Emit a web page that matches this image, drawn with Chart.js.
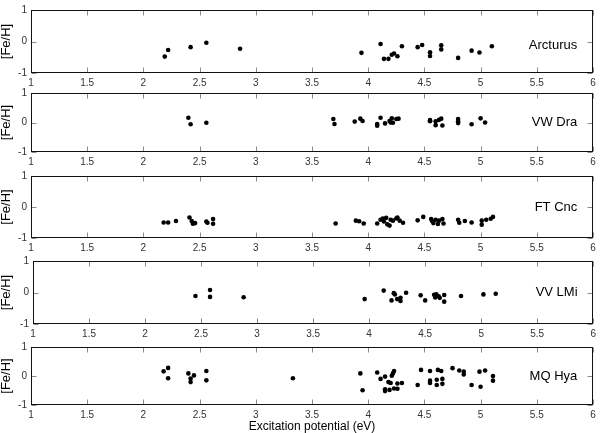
<!DOCTYPE html>
<html>
<head>
<meta charset="utf-8">
<script src="https://cdn.jsdelivr.net/npm/chart.js@4/dist/chart.umd.min.js"></script>
<style>
  body { margin: 0; background: #fff; }
  #wrap { position: relative; width: 600px; height: 433px; overflow: hidden; }
  #wrap canvas { position: absolute; left: 0; }
</style>
</head>
<body>
<div id="wrap"></div>
<script>
// star names, one per panel
var stars = ["Arcturus", "VW Dra", "FT Cnc", "VV LMi", "MQ Hya"];

// x ticks / y ticks
var epTicks = [1, 1.5, 2, 2.5, 3, 3.5, 4, 4.5, 5, 5.5, 6];
var feTicks = [-1, 0, 1];

// excitation potential (eV) and [Fe/H] per line
var arcturusEp = [2.19, 2.22, 2.42, 2.56, 2.86, 3.94, 4.11, 4.14, 4.18, 4.21, 4.23, 4.26, 4.30, 4.44, 4.48, 4.55, 4.55, 4.65, 4.65, 4.80, 4.92, 4.99, 5.10];
var arcturusFe = [-0.48, -0.27, -0.18, -0.04, -0.23, -0.36, -0.08, -0.55, -0.55, -0.42, -0.38, -0.47, -0.15, -0.18, -0.11, -0.34, -0.46, -0.12, -0.25, -0.52, -0.29, -0.35, -0.15];

var vwdraEp = [2.40, 2.42, 2.56, 3.69, 3.70, 3.88, 3.93, 3.95, 4.08, 4.08, 4.11, 4.15, 4.19, 4.20, 4.21, 4.22, 4.25, 4.27, 4.55, 4.55, 4.60, 4.60, 4.63, 4.65, 4.66, 4.80, 4.80, 4.80, 4.92, 5.00, 5.04];
var vwdraFe = [0.16, -0.06, -0.01, 0.12, -0.05, 0.03, 0.13, 0.05, -0.05, -0.11, 0.16, -0.03, 0.05, 0.00, 0.14, -0.01, 0.12, 0.13, 0.08, 0.04, 0.04, -0.09, 0.09, 0.13, -0.10, 0.12, 0.04, -0.02, -0.06, 0.14, 0.00];

var ftcncEp = [2.18, 2.22, 2.29, 2.41, 2.43, 2.44, 2.46, 2.56, 2.57, 2.62, 2.62, 3.71, 3.89, 3.92, 3.96, 4.08, 4.11, 4.13, 4.14, 4.16, 4.17, 4.19, 4.20, 4.22, 4.25, 4.26, 4.28, 4.31, 4.44, 4.49, 4.56, 4.57, 4.58, 4.60, 4.62, 4.63, 4.66, 4.67, 4.80, 4.81, 4.86, 4.92, 5.01, 5.01, 5.05, 5.09, 5.11];
var ftcncFe = [-0.50, -0.50, -0.45, -0.34, -0.45, -0.54, -0.52, -0.47, -0.51, -0.39, -0.54, -0.53, -0.44, -0.46, -0.53, -0.53, -0.41, -0.37, -0.47, -0.35, -0.56, -0.60, -0.41, -0.44, -0.37, -0.34, -0.44, -0.51, -0.43, -0.32, -0.39, -0.46, -0.52, -0.41, -0.55, -0.44, -0.39, -0.53, -0.41, -0.51, -0.45, -0.50, -0.44, -0.57, -0.41, -0.38, -0.32];

var vvlmiEp = [2.45, 2.58, 2.58, 2.88, 3.96, 4.13, 4.20, 4.22, 4.23, 4.25, 4.28, 4.28, 4.33, 4.46, 4.50, 4.58, 4.59, 4.60, 4.62, 4.63, 4.67, 4.67, 4.82, 5.02, 5.13];
var vvlmiFe = [-0.11, 0.08, -0.14, -0.15, -0.21, 0.06, -0.25, -0.02, -0.06, -0.21, -0.17, -0.27, -0.01, -0.09, -0.25, -0.07, -0.16, -0.06, -0.12, -0.17, -0.08, -0.29, -0.11, -0.06, -0.04];

var mqhyaEp = [2.18, 2.22, 2.22, 2.40, 2.42, 2.42, 2.45, 2.56, 2.56, 3.33, 3.93, 3.95, 4.08, 4.11, 4.15, 4.15, 4.15, 4.18, 4.19, 4.20, 4.21, 4.22, 4.23, 4.23, 4.26, 4.26, 4.30, 4.44, 4.47, 4.55, 4.55, 4.55, 4.61, 4.61, 4.62, 4.65, 4.66, 4.66, 4.75, 4.81, 4.85, 4.85, 4.92, 4.99, 5.00, 5.04, 5.11, 5.11];
var mqhyaFe = [0.16, 0.28, -0.08, 0.09, -0.09, -0.21, 0.02, 0.17, -0.15, -0.08, 0.09, -0.49, 0.12, -0.10, -0.02, -0.46, -0.52, -0.21, -0.48, -0.24, 0.01, 0.09, 0.17, -0.43, -0.44, -0.26, -0.24, -0.31, 0.21, 0.17, -0.16, -0.24, -0.13, -0.31, 0.21, 0.17, -0.10, -0.27, 0.27, 0.19, 0.15, 0.05, -0.31, 0.15, -0.37, 0.19, 0.00, -0.16];

var series = [
  [arcturusEp, arcturusFe],
  [vwdraEp, vwdraFe],
  [ftcncEp, ftcncFe],
  [vvlmiEp, vvlmiFe],
  [mqhyaEp, mqhyaFe]
];

// panel boxes in page pixels (top, bottom, left, right) and where the name sits
var panels = [
  { top: 6,   bottom: 73,  left: 31, right: 593, nameAt: [5.86, -0.13] },
  { top: 89,  bottom: 152, left: 31, right: 593, nameAt: [5.86, 0] },
  { top: 172, bottom: 238, left: 31, right: 593, nameAt: [5.86, 0] },
  { top: 257, bottom: 324, left: 33, right: 596, nameAt: [5.86, 0] },
  { top: 343, bottom: 405, left: 31, right: 593, nameAt: [5.86, 0] }
];

var FONT = '"Liberation Sans", Arial, Helvetica, sans-serif';

// matlab-like box with inward ticks + star name
var framePlugin = {
  id: 'frame',
  beforeDatasetsDraw: function(chart, args, opts) {
    var ctx = chart.ctx, a = chart.chartArea;
    var x = chart.scales.x, y = chart.scales.y;
    var l = Math.round(a.left) + 0.5, r = Math.round(a.right) - 0.5;
    var t = Math.round(a.top) + 0.5, b = Math.round(a.bottom) - 0.5;
    ctx.save();
    ctx.lineWidth = 1;
    ctx.strokeStyle = '#8a8a8a';
    ctx.beginPath();
    epTicks.forEach(function(v) {
      var px = Math.round(x.getPixelForValue(v)) + 0.5;
      ctx.moveTo(px, t); ctx.lineTo(px, t + 5);
      ctx.moveTo(px, b); ctx.lineTo(px, b - 5);
    });
    feTicks.forEach(function(v) {
      var py = Math.round(y.getPixelForValue(v)) + 0.5;
      ctx.moveTo(l, py); ctx.lineTo(l + 5, py);
      ctx.moveTo(r, py); ctx.lineTo(r - 5, py);
    });
    ctx.stroke();
    ctx.strokeStyle = '#111';
    ctx.strokeRect(l, t, r - l, b - t);
    ctx.fillStyle = '#000';
    ctx.font = '13px ' + FONT;
    ctx.textAlign = 'right';
    ctx.textBaseline = 'middle';
    ctx.fillText(opts.name, x.getPixelForValue(opts.nameAt[0]), y.getPixelForValue(opts.nameAt[1]));
    ctx.restore();
  }
};

var wrap = document.getElementById('wrap');

panels.forEach(function(p, i) {
  var last = i === panels.length - 1;
  var padTop = 6;
  var bottomH = last ? 433 - p.bottom : 14;
  var cv = document.createElement('canvas');
  cv.width = 600;
  cv.height = (p.bottom - p.top) + padTop + bottomH;
  cv.style.top = (p.top - padTop) + 'px';
  wrap.appendChild(cv);

  var pts = series[i][0].map(function(ep, k) { return { x: ep, y: series[i][1][k] }; });

  new Chart(cv.getContext('2d'), {
    type: 'scatter',
    data: {
      datasets: [{
        data: pts,
        backgroundColor: '#000',
        borderWidth: 0,
        pointRadius: 2.3
      }]
    },
    options: {
      responsive: false,
      animation: false,
      events: [],
      layout: { padding: { top: padTop, left: 0, right: 600 - p.right, bottom: 0 } },
      plugins: {
        legend: { display: false },
        tooltip: { enabled: false },
        frame: { name: stars[i], nameAt: p.nameAt }
      },
      scales: {
        x: {
          type: 'linear',
          min: 1, max: 6,
          afterBuildTicks: function(s) { s.ticks = epTicks.map(function(v) { return { value: v }; }); },
          afterFit: function(s) { s.height = bottomH; },
          grid: { display: false, drawTicks: false },
          border: { display: false },
          ticks: {
            color: '#333', font: { family: FONT, size: 10 }, padding: 4, maxRotation: 0, autoSkip: false,
            callback: function(v) { return String(v); }
          },
          title: {
            display: last,
            text: 'Excitation potential (eV)',
            color: '#000',
            font: { family: FONT, size: 12, lineHeight: 1 },
            padding: 0
          }
        },
        y: {
          type: 'linear',
          min: -1, max: 1,
          afterBuildTicks: function(s) { s.ticks = feTicks.map(function(v) { return { value: v }; }); },
          afterFit: function(s) { s.width = p.left; },
          grid: { display: false, drawTicks: false },
          border: { display: false },
          ticks: {
            color: '#333', font: { family: FONT, size: 10 }, padding: 4,
            callback: function(v) { return String(v); }
          },
          title: {
            display: true,
            text: '[Fe/H]',
            color: '#000',
            font: { family: FONT, size: 13, lineHeight: 1 },
            padding: 0
          }
        }
      }
    },
    plugins: [framePlugin]
  });
});
</script>
</body>
</html>
